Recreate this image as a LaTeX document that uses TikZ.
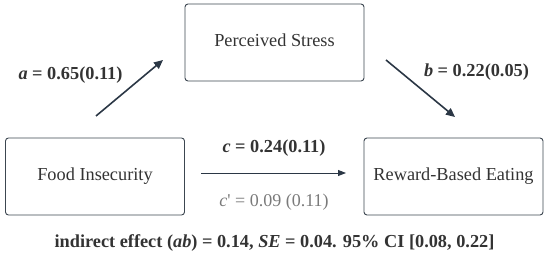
\documentclass[tikz,border=0pt]{standalone}
\usepackage{fontspec}
\setmainfont{Liberation Serif}
\usetikzlibrary{arrows.meta}
\definecolor{boxc}{HTML}{3C4650}
\definecolor{arrc}{HTML}{2B3745}
\definecolor{txtc}{HTML}{333333}
\definecolor{graytxt}{HTML}{7A7A7A}
\begin{document}
\begin{tikzpicture}[x=1pt,y=1pt,
  varbox/.style={draw=boxc, line width=0.9pt, rounded corners=3pt, minimum width=179pt, minimum height=77pt, inner sep=0pt, text=txtc, font=\fontsize{18.3}{21}\selectfont},
  path/.style={draw=arrc, line width=1.6pt, -{Triangle[length=9pt,width=8pt]}},
  cpath/.style={draw=arrc, line width=0.9pt, -{Triangle[length=8pt,width=6pt]}},
  coef/.style={text=txtc, font=\fontsize{18.3}{21}\selectfont\bfseries, inner sep=0pt},
  coefg/.style={text=graytxt, font=\fontsize{18}{21}\selectfont, inner sep=0pt}
]
\useasboundingbox (0,0) rectangle (550,257);
\node[varbox] (ps) at (274.5,214.5) {\raisebox{4pt}{Perceived Stress}};
\node[varbox] (fi) at (95,80.5) {\raisebox{3pt}{Food Insecurity}};
\node[varbox] (rb) at (453.5,80.5) {\raisebox{-1pt}{Reward-Based Eating}};
\coordinate (a1) at (96,141);
\coordinate (a2) at (163,197);
\coordinate (b1) at (386,197);
\coordinate (b2) at (455,140);
\coordinate (c1) at (201,84);
\coordinate (c2) at (346,84);
\draw[path] (a1) -- (a2);
\draw[path] (b1) -- (b2);
\draw[cpath] (c1) -- (c2);
\node[coef] (la) at (70.5,182) {\textit{a} = 0.65(0.11)};
\node[coef] (lb) at (476.5,185) {\textit{b} = 0.22(0.05)};
\node[coef] (lc) at (274,109) {\textit{c} = 0.24(0.11)};
\node[coefg] (lcp) at (274,55) {\textit{c}\textquotesingle\ = 0.09 (0.11)};
\node[coef] (ind) at (274.5,14) {indirect effect (\textit{ab}) = 0.14, \textit{SE} = 0.04. 95\% CI [0.08, 0.22]};
\end{tikzpicture}
\end{document}
